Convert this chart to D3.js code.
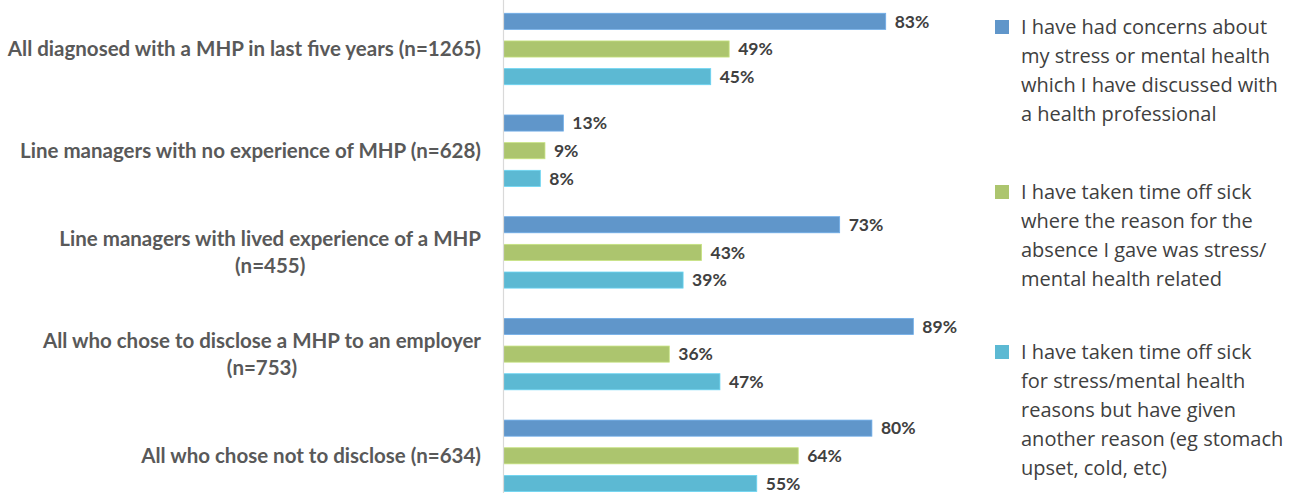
<!DOCTYPE html>
<html><head><meta charset="utf-8">
<script src="https://cdn.jsdelivr.net/npm/d3@7"></script>
<style>body{margin:0;background:#fff}svg{display:block}</style>
</head><body>
<svg id="c" width="1291" height="493"></svg>
<script>
const categories = [
  ["All diagnosed with a MHP in last five years (n=1265)"],
  ["Line managers with no experience of MHP (n=628)"],
  ["Line managers with lived experience of a MHP", "(n=455)"],
  ["All who chose to disclose a MHP to an employer", "(n=753)"],
  ["All who chose not to disclose (n=634)"]
];
const seriesNames = ["concerns", "offSick", "otherReason"];
const concerns    = [83, 13, 73, 89, 80];
const offSick     = [49, 9, 43, 36, 64];
const otherReason = [45, 8, 39, 47, 55];
const legendLabels = [
  ["I have had concerns about", "my stress or mental health", "which I have discussed with", "a health professional"],
  ["I have taken time off sick", "where the reason for the", "absence I gave was stress/", "mental health related"],
  ["I have taken time off sick", "for stress/mental health", "reasons but have given", "another reason (eg stomach", "upset, cold, etc)"]
];
const colors = ["#6096ca", "#acc56e", "#5cb9d3"];
const values = [concerns, offSick, otherReason];

const svg = d3.select("#c");
const x = d3.scaleLinear().domain([0, 100]).range([503.5, 964]);
const y0 = d3.scaleBand().domain(d3.range(categories.length)).range([-1.75, 506.75]);
const y1 = d3.scaleBand().domain(seriesNames).range([9.25, 92.25]).paddingInner(0.418).paddingOuter(0.209);
const catFont = "Lato, 'Open Sans', sans-serif";
const catSize = 20.5;

const g = svg.append("g");
categories.forEach((cat, i) => {
  const gg = g.append("g").attr("transform", `translate(0,${y0(i)})`);
  seriesNames.forEach((s, j) => {
    const v = values[j][i];
    gg.append("rect")
      .attr("x", x(0)).attr("y", y1(s))
      .attr("width", x(v) - x(0)).attr("height", y1.bandwidth())
      .attr("fill", colors[j])
      .attr("stroke", d3.color(colors[j]).brighter(0.4)).attr("stroke-width", 0.8);
    gg.append("text")
      .attr("x", x(v) + 9).attr("y", y1(s) + y1.bandwidth() / 2)
      .attr("dy", "0.36em")
      .attr("font-family", catFont).attr("font-weight", 700)
      .attr("font-size", 17.5).attr("fill", "#404040")
      .text(v + "%");
  });
  const cy = y0(i) + y1("offSick") + y1.bandwidth() / 2;
  const lh = 26.5;
  const t = svg.append("text")
    .attr("font-family", catFont).attr("font-weight", 700)
    .attr("font-size", catSize).attr("fill", "#595959").attr("text-anchor", "middle");
  const n = cat.length;
  const tmp = svg.append("text").attr("font-family", catFont).attr("font-weight", 700).attr("font-size", catSize).text(cat[0]);
  const w = tmp.node().getComputedTextLength(); tmp.remove();
  const cx = 481 - w / 2;
  cat.forEach((line, k) => {
    t.append("tspan").attr("x", cx)
      .attr("y", cy + (k - (n - 1) / 2) * lh).attr("dy", "0.35em").text(line);
  });
});

svg.append("line").attr("x1", 503.5).attr("x2", 503.5).attr("y1", 0).attr("y2", 493)
  .attr("stroke", "#d9d9d9").attr("stroke-width", 1.2);

const legTops = [27, 192, 352];
legendLabels.forEach((lines, i) => {
  svg.append("rect").attr("x", 995).attr("y", legTops[i] - 7).attr("width", 14).attr("height", 14)
    .attr("fill", colors[i]);
  const t = svg.append("text").attr("font-family", "'Open Sans', sans-serif")
    .attr("font-size", 20).attr("fill", "#404040");
  lines.forEach((l, k) => {
    t.append("tspan").attr("x", 1021).attr("y", legTops[i] + k * 29).attr("dy", "0.35em").text(l);
  });
});
</script>
</body></html>
